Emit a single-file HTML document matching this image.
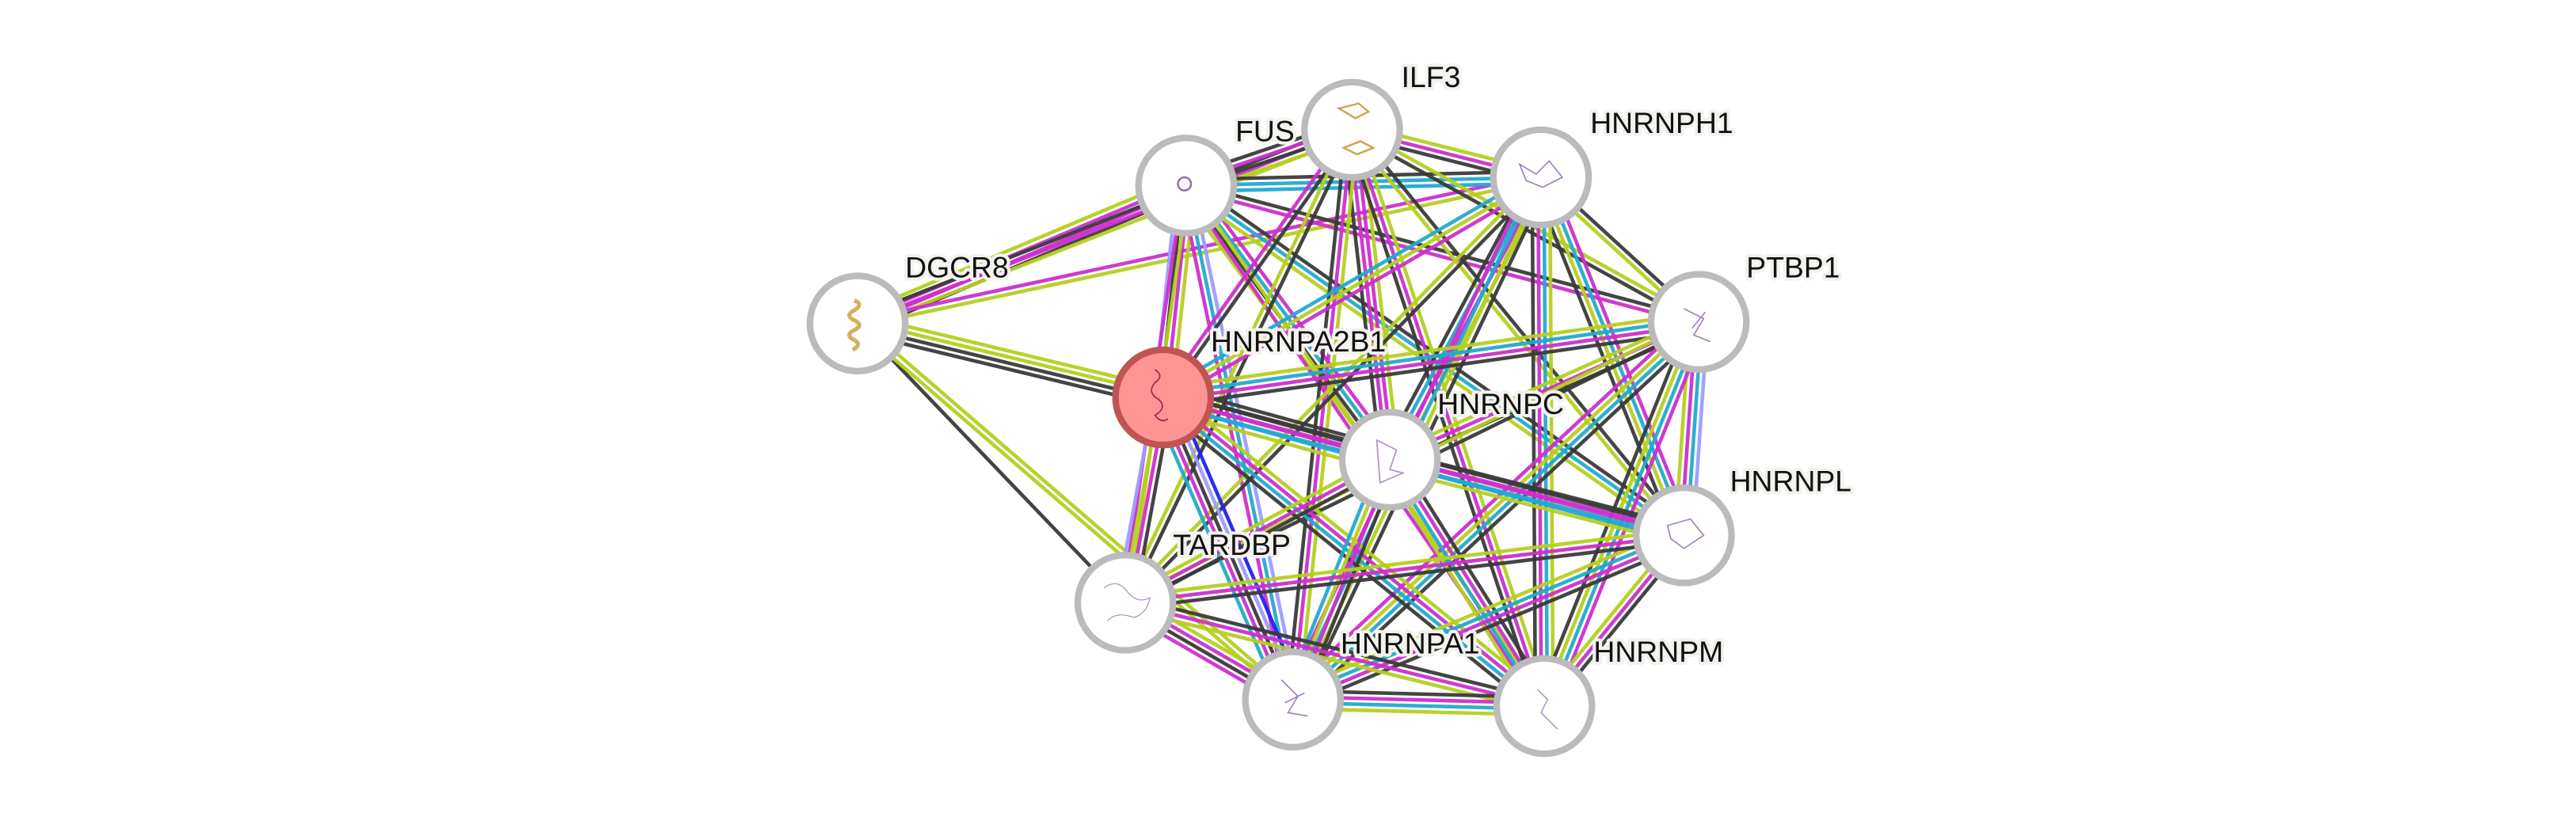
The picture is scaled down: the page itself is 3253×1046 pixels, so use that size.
<!DOCTYPE html>
<html><head><meta charset="utf-8"><style>
html,body{margin:0;padding:0;background:#fff;width:3253px;height:1046px;overflow:hidden}
svg{display:block}
text{font-family:"Liberation Sans",sans-serif;font-size:18px;fill:#111;stroke:#f4f2ee;stroke-width:4px;paint-order:stroke;stroke-linejoin:round}
</style></head><body>
<svg id="s" width="3253" height="1046" viewBox="0 0 1568 504.2" preserveAspectRatio="none" xmlns="http://www.w3.org/2000/svg">
<g id="edges"></g>
<g id="nodes" stroke-width="4">
<circle cx="823" cy="79" r="29" fill="#fff" stroke="#bbb"/>
<circle cx="722" cy="113" r="29" fill="#fff" stroke="#bbb"/>
<circle cx="938" cy="108" r="29" fill="#fff" stroke="#bbb"/>
<circle cx="522" cy="197" r="29" fill="#fff" stroke="#bbb"/>
<circle cx="1034" cy="196" r="29" fill="#fff" stroke="#bbb"/>
<circle cx="708" cy="242" r="29" fill="#ff9494" stroke="#c05454"/>
<circle cx="846" cy="280" r="29" fill="#fff" stroke="#bbb"/>
<circle cx="1025" cy="326" r="29" fill="#fff" stroke="#bbb"/>
<circle cx="685" cy="367" r="29" fill="#fff" stroke="#bbb"/>
<circle cx="787" cy="426" r="29" fill="#fff" stroke="#bbb"/>
<circle cx="940" cy="430" r="29" fill="#fff" stroke="#bbb"/>
</g>
<g fill="none" stroke-width="1.2">
<path d="M520 183 q6 2 0 6 q-6 3 0 6 q6 3 0 6 q-6 3 0 6 q5 3 -1 6" stroke="#d4b060" stroke-width="2.5"/>
<path d="M703 225 q6 4 0 8 q-5 6 2 10 q6 5 -2 10 q4 5 8 2" stroke="#a02050" stroke-width="0.8"/>
<circle cx="721" cy="112" r="4" stroke="#9070b0"/>
<path d="M815 66 l12 -3 l6 5 l-8 4 z M818 90 l10 -4 l8 4 l-10 4 z" stroke="#c8a850"/>
<path d="M925 100 l10 6 l8 -8 l8 10 l-12 6 l-10 -4 z" stroke="#a080c0" stroke-width="0.8"/>
<path d="M1025 188 l12 6 l-6 10 l10 4 M1030 200 l8 -10" stroke="#a080c0" stroke-width="0.8"/>
<path d="M838 268 l12 6 l-4 12 l8 2 l-14 6 z" stroke="#b090c8" stroke-width="0.8"/>
<path d="M1015 320 l14 -4 l8 10 l-12 8 l-8 -6 z" stroke="#a080c0" stroke-width="0.8"/>
<path d="M672 358 q8 -6 14 2 q6 8 14 4 q-2 10 -10 12 q-10 -4 -16 2" stroke="#b090c8" stroke-width="0.6"/>
<path d="M780 414 l10 10 l-6 10 l12 2 M782 428 l12 -6" stroke="#a080c0" stroke-width="0.8"/>
<path d="M936 420 l6 6 l-4 8 l10 10" stroke="#a080c0" stroke-width="0.6"/>
</g>
<g>
<text x="853" y="53">ILF3</text>
<text x="752" y="86">FUS</text>
<text x="968" y="81">HNRNPH1</text>
<text x="551" y="169">DGCR8</text>
<text x="1063" y="169">PTBP1</text>
<text x="737" y="214">HNRNPA2B1</text>
<text x="875" y="252">HNRNPC</text>
<text x="1053" y="299">HNRNPL</text>
<text x="714" y="338">TARDBP</text>
<text x="816" y="398">HNRNPA1</text>
<text x="970" y="403">HNRNPM</text>
</g>
</svg>
<script>
var N={ILF3:[823,79],FUS:[722,113],H1:[938,108],DG:[522,197],PT:[1034,196],A2:[708,242],C:[846,280],L:[1025,326],TD:[685,367],A1:[787,426],M:[940,430]};
var Y='#b5cf20',P='#cc2fcc',C='#22aace',K='#3a3a3a',B='#2222ee',LB='#9c9cff';
var full=[Y,P,C,K];
var E=[
['DG','FUS',[Y,P,P,K]],['DG','ILF3',[K,P,Y]],['DG','H1',[P,Y]],['DG','A2',[Y,Y,K,K]],['DG','TD',[K]],['DG','A1',[Y,Y]],
['FUS','ILF3',[K,P,K,Y]],['FUS','H1',[K,C,C]],['FUS','PT',[K,P]],['FUS','A2',[Y,P,K,LB]],['FUS','C',[P,C,K,Y]],['FUS','TD',[Y,P]],['FUS','A1',[LB,C,P]],['FUS','M',[Y,P]],['FUS','L',[K,C,Y]],
['ILF3','H1',[Y,P,K]],['ILF3','PT',[Y,K]],['ILF3','A2',[K,P]],['ILF3','C',[Y,P,P,K]],['ILF3','TD',[K,Y]],['ILF3','A1',[Y,P,K]],['ILF3','M',[Y,P,K]],['ILF3','L',[K,Y]],
['H1','PT',[K,Y]],['H1','A2',[P,Y,C]],['H1','C',full],['H1','L',[P,C,Y,K]],['H1','M',[Y,C,P,K]],['H1','A1',[K,Y,C,P]],['H1','TD',[K,Y]],
['PT','A2',[K,P,C,Y]],['PT','C',[K,P,Y]],['PT','L',[LB,C,P,Y]],['PT','M',[P,C,Y,K]],['PT','A1',[K,C,Y,P]],['PT','TD',[K,Y]],
['A2','C',[K,K,P,C,Y]],['A2','L',[K,P,C]],['A2','M',[Y,P,C,K]],['A2','A1',[B,LB,K,P,C]],['A2','TD',[K,P,Y,LB]],
['C','L',[K,P,C,Y]],['C','M',[K,P,C,Y]],['C','A1',[K,P,Y,C]],['C','TD',[K,P,Y]],
['L','M',[K,P,Y]],['L','A1',[K,P,C,Y]],['L','TD',[K,P,Y]],
['TD','A1',[Y,P,K,P]],['TD','M',[K,P,Y]],['A1','M',[K,P,C,Y]]];
var g=document.getElementById('edges'),h='';
E.forEach(function(e){var a=N[e[0]],b=N[e[1]],dx=b[0]-a[0],dy=b[1]-a[1],l=Math.hypot(dx,dy),nx=-dy/l,ny=dx/l,c=e[2],n=c.length;
c.forEach(function(col,i){var o=(i-(n-1)/2)*3.6;h+='<line x1="'+(a[0]+nx*o)+'" y1="'+(a[1]+ny*o)+'" x2="'+(b[0]+nx*o)+'" y2="'+(b[1]+ny*o)+'" stroke="'+col+'" stroke-width="2.2" stroke-opacity="0.95"/>';});});
g.innerHTML=h;
</script>
</body></html>
